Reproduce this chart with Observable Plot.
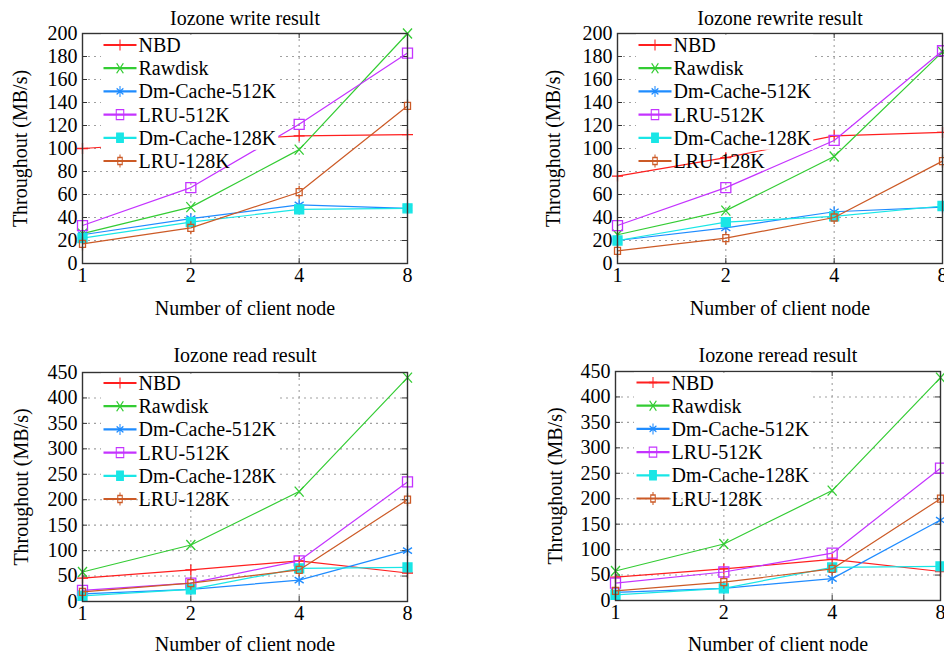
<!DOCTYPE html>
<html><head><meta charset="utf-8">
<script src="https://cdn.jsdelivr.net/npm/d3@7"></script>
<script src="https://cdn.jsdelivr.net/npm/@observablehq/plot@0.6"></script>
<style>
body{margin:0;background:#fff;}
#chart{position:relative;width:944px;height:655px;overflow:hidden;background:#fff;}
#chart svg, #chart svg text{font-family:"Liberation Serif","DejaVu Serif",serif !important;}
</style></head><body><div id="chart"></div>
<script>
// ---- data ----
const nodes = [1, 2, 4, 8];
const seriesNames = ["NBD", "Rawdisk", "Dm-Cache-512K", "LRU-512K", "Dm-Cache-128K", "LRU-128K"];
const seriesColors = ["#ff1f1f", "#33cc33", "#1f8cff", "#c433ff", "#19e6e6", "#cc5a26"];

const writeNBD = [100, 106, 111, 112];
const writeRawdisk = [26, 49, 99, 200];
const writeDm512 = [25, 39, 51, 48];
const writeLRU512 = [33, 66, 121, 183];
const writeDm128 = [22, 36, 47, 48];
const writeLRU128 = [17, 31, 62, 137];

const rewriteNBD = [76, 92, 111, 114];
const rewriteRawdisk = [25, 46, 93, 184];
const rewriteDm512 = [20, 31, 45, 49];
const rewriteLRU512 = [33, 66, 107, 185];
const rewriteDm128 = [20, 36, 41, 50];
const rewriteLRU128 = [11, 22, 40, 89];

const readNBD = [46, 62, 80, 56];
const readRawdisk = [58, 111, 216, 440];
const readDm512 = [15, 24, 42, 100];
const readLRU512 = [22, 36, 80, 235];
const readDm128 = [11, 24, 65, 67];
const readLRU128 = [19, 36, 62, 200];

const rereadNBD = [46, 62, 81, 57];
const rereadRawdisk = [58, 111, 216, 438];
const rereadDm512 = [16, 24, 43, 158];
const rereadLRU512 = [34, 56, 93, 260];
const rereadDm128 = [11, 24, 65, 67];
const rereadLRU128 = [19, 36, 62, 200];

const writeTicks = [0, 20, 40, 60, 80, 100, 120, 140, 160, 180, 200];
const readTicks = [0, 50, 100, 150, 200, 250, 300, 350, 400, 450];
const titles = ["Iozone write result", "Iozone rewrite result", "Iozone read result", "Iozone reread result"];
const xLabel = "Number of client node";
const yLabel = "Throughout (MB/s)";

// ---- marker shapes ----
const symPlus = {draw(c) { c.moveTo(-5.5, 0); c.lineTo(5.5, 0); c.moveTo(0, -5.5); c.lineTo(0, 5.5); }};
const symX = {draw(c) { c.moveTo(-4.5, -5); c.lineTo(4.5, 5); c.moveTo(-4.5, 5); c.lineTo(4.5, -5); }};
const symAst = {draw(c) { c.moveTo(0, -5.5); c.lineTo(0, 5.5); c.moveTo(-4.5, -3); c.lineTo(4.5, 3); c.moveTo(-4.5, 3); c.lineTo(4.5, -3); }};
const symSq = {draw(c) { c.rect(-5, -5, 10, 10); }};
const symSqF = {draw(c) { c.rect(-4.5, -4.5, 9, 9); }};
const symBox = {draw(c) { c.rect(-3, -3.5, 6, 7); c.moveTo(0, -3.5); c.lineTo(0, -6.5); c.moveTo(0, 3.5); c.lineTo(0, 6.5); }};
const symbols = [symPlus, symX, symAst, symSq, symSqF, symBox];
const filled = [false, false, false, false, true, false];

const chart = document.getElementById("chart");
const FONT = "Liberation Serif, DejaVu Serif, serif";

function panel(cfg) {
  const W = 472, H = 325;
  const {ml, mr, mt, mb} = cfg;
  const fw = W - ml - mr, fh = H - mt - mb;
  const yTicks = cfg.ticks;
  const yMax = yTicks[yTicks.length - 1];
  const rows = [];
  cfg.series.forEach((vals, i) => vals.forEach((v, j) => rows.push({s: i, x: nodes[j], y: v})));
  const marks = [
    Plot.gridY(yTicks.slice(1, -1), {stroke: "#a0a0a0", strokeOpacity: 1, strokeDasharray: "2,4", strokeWidth: 1.1}),
    Plot.gridX(nodes.slice(1, -1), {stroke: "#a0a0a0", strokeOpacity: 1, strokeDasharray: "2,4", strokeWidth: 1.1}),
    Plot.tickY(yTicks, {y: d => d, insetRight: fw - 5, stroke: "#333"}),
    Plot.tickY(yTicks, {y: d => d, insetLeft: fw - 5, stroke: "#333"}),
    Plot.tickX(nodes, {x: d => d, insetTop: fh - 5, stroke: "#333"}),
    Plot.tickX(nodes, {x: d => d, insetBottom: fh - 5, stroke: "#333"}),
    Plot.axisY(yTicks, {tickSize: 0, tickPadding: 5, label: null, fill: "#000"}),
    Plot.axisX(nodes, {tickSize: 0, tickPadding: 4, label: null, tickFormat: d => String(d), fill: "#000"}),
    Plot.text([cfg.title], {text: d => d, frameAnchor: "top", textAnchor: "middle", lineAnchor: "middle", dy: -cfg.titleOff, fill: "#000"}),
    Plot.text([xLabel], {text: d => d, frameAnchor: "bottom", textAnchor: "middle", lineAnchor: "middle", dy: cfg.xlOff, fill: "#000"}),
    Plot.text([yLabel], {text: d => d, frameAnchor: "left", textAnchor: "middle", lineAnchor: "middle", dx: -cfg.ylOff, rotate: -90, fill: "#000"})
  ];
  seriesNames.forEach((name, i) => {
    const d = rows.filter(r => r.s === i);
    marks.push(Plot.line(d, {x: "x", y: "y", stroke: seriesColors[i], strokeWidth: 1.2}));
    marks.push(Plot.dot(d, {x: "x", y: "y", r: 5, symbol: symbols[i], stroke: seriesColors[i], strokeWidth: 1.3,
      fill: filled[i] ? seriesColors[i] : "none"}));
  });
  marks.push(Plot.frame({stroke: "#333", strokeWidth: 1.4}));
  const svg = Plot.plot({
    width: W, height: H,
    marginLeft: ml, marginRight: mr, marginTop: mt, marginBottom: mb,
    style: {fontFamily: FONT, fontSize: "20px", background: "transparent", overflow: "visible", color: "#000"},
    x: {type: "log", base: 2, domain: [1, 8]},
    y: {domain: [0, yMax]},
    marks
  });
  svg.style.position = "absolute";
  svg.style.left = cfg.left + "px";
  svg.style.top = cfg.top + "px";
  chart.appendChild(svg);

  // legend (key) drawn over the data, boxed for the first five rows like the original
  const g = d3.select(svg).append("g").attr("font-family", FONT).attr("font-size", 20).attr("text-anchor", "start");
  const lx0 = ml + 21.5, lx1 = lx0 + 33, tx = lx1 + 2;
  const rowY = i => mt + cfg.keyOff + i * 23.2;
  const box = g.append("rect").attr("fill", "#fff").attr("x", ml + 19).attr("y", mt + 1.5)
    .attr("height", rowY(4) + 12 - mt - 1.5);
  let maxEnd = 0;
  seriesNames.forEach((name, i) => {
    const y = rowY(i);
    g.append("line").attr("x1", lx0).attr("x2", lx1).attr("y1", y).attr("y2", y)
      .attr("stroke", seriesColors[i]).attr("stroke-width", 2.2);
    g.append("path").attr("d", d3.symbol(symbols[i])()).attr("transform", `translate(${(lx0 + lx1) / 2},${y}) scale(0.75,1)`)
      .attr("stroke", seriesColors[i]).attr("stroke-width", 1.4).attr("fill", filled[i] ? seriesColors[i] : "none");
    const t = g.append("text").attr("x", tx).attr("y", y).attr("dy", "0.35em").attr("text-anchor", "start")
      .attr("fill", "#000").text(name);
    if (i < 5) maxEnd = Math.max(maxEnd, tx + t.node().getComputedTextLength());
  });
  box.attr("width", maxEnd + 2 - (ml + 19));
}

panel({title: titles[0], ticks: writeTicks, left: 0, top: 0, ml: 82, mr: 65, mt: 33, mb: 62,
  titleOff: 15, xlOff: 45, ylOff: 62, keyOff: 12,
  series: [writeNBD, writeRawdisk, writeDm512, writeLRU512, writeDm128, writeLRU128]});
panel({title: titles[1], ticks: writeTicks, left: 472, top: 0, ml: 145, mr: 2, mt: 33, mb: 62,
  titleOff: 15, xlOff: 45, ylOff: 64, keyOff: 12,
  series: [rewriteNBD, rewriteRawdisk, rewriteDm512, rewriteLRU512, rewriteDm128, rewriteLRU128]});
panel({title: titles[2], ticks: readTicks, left: 0, top: 330, ml: 82, mr: 65, mt: 42, mb: 54,
  titleOff: 17, xlOff: 43.5, ylOff: 61, keyOff: 11,
  series: [readNBD, readRawdisk, readDm512, readLRU512, readDm128, readLRU128]});
panel({title: titles[3], ticks: readTicks, left: 472, top: 330, ml: 143, mr: 4, mt: 41, mb: 55,
  titleOff: 16, xlOff: 44, ylOff: 60, keyOff: 11.5,
  series: [rereadNBD, rereadRawdisk, rereadDm512, rereadLRU512, rereadDm128, rereadLRU128]});
</script></body></html>
